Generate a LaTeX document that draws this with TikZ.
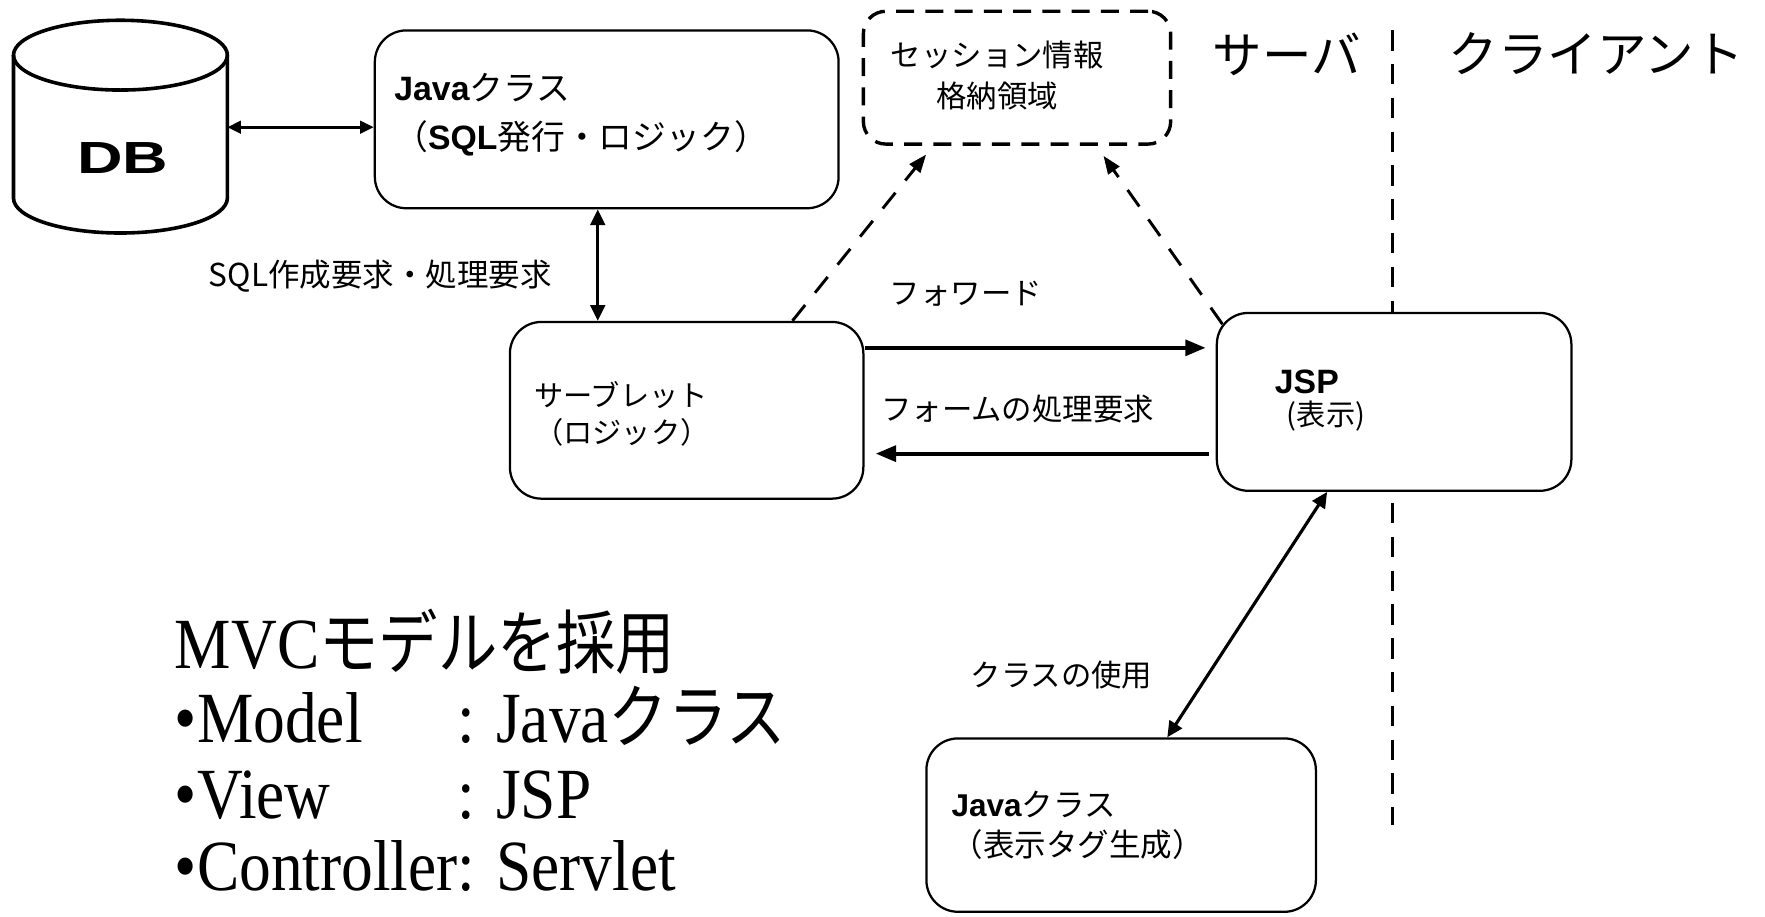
\documentclass[tikz,border=0pt]{standalone}
\usepackage{fontspec}
\usepackage{graphicx}
\setmainfont{Liberation Serif}
\newfontfamily\jp{Noto Sans CJK JP}
\newfontfamily\lsans{Liberation Sans}
\newfontfamily\tnr[FakeStretch=0.88]{Liberation Serif}
\newfontfamily\jpn[FakeStretch=0.85]{Noto Sans CJK JP}
\usetikzlibrary{arrows.meta}
\begin{document}
\begin{tikzpicture}[x=0.5pt,y=-0.5pt,
  box/.style={draw, line width=1pt, rounded corners=14pt, fill=white, inner sep=0pt},
  sbox/.style={draw, line width=1.5pt, dash pattern=on 8pt off 5pt, rounded corners=10pt, fill=white, inner sep=0pt},
  arr/.style={line width=1.7pt, -{Triangle[length=9pt,width=7pt]}},
  darr/.style={line width=1.3pt, dash pattern=on 9pt off 7pt, -{Triangle[length=8pt,width=6pt]}},
  barr/.style={line width=1.4pt, {Triangle[length=7pt,width=6.5pt]}-{Triangle[length=7pt,width=6.5pt]}},
  sepline/.style={line width=1.3pt, dash pattern=on 9pt off 6pt},
  lbl/.style={font=\jp\fontsize{13.5}{16}\selectfont, inner sep=0pt},
  big/.style={font=\jp\fontsize{22}{22}\selectfont, inner sep=0pt},
  bl/.style={font=\tnr\fontsize{32}{32}\selectfont, anchor=base west, inner sep=0pt}
]
\useasboundingbox (0,0) rectangle (1568,814);
\fill[white] (0,0) rectangle (1568,814);

% separator
\coordinate (sept) at (1237,27);
\coordinate (sepb) at (1237,733);
\draw[sepline] (sept) -- (sepb);

% DB cylinder
\draw[line width=1.6pt] (12,49) -- (12,176) arc[start angle=180, end angle=360, x radius=47.5pt, y radius=15.5pt] -- (202,49);
\draw[line width=1.6pt] (107,49) ellipse [x radius=47.5pt, y radius=15.5pt];
\node[font=\lsans\bfseries\fontsize{20}{20}\selectfont, inner sep=0pt] (db) at (109,140) {\scalebox{1.4}[1]{DB}};
\coordinate (dbr) at (202,113);

% boxes
\node[box, minimum width=206pt, minimum height=79pt] (java) at (539,106) {};
\node[box, minimum width=157pt, minimum height=78.5pt] (servlet) at (610,364.5) {};
\node[box, minimum width=157.5pt, minimum height=79pt] (jsp) at (1238.5,357) {};
\node[sbox, minimum width=136.5pt, minimum height=59pt] (session) at (903.5,69) {};
\node[box, minimum width=173pt, minimum height=77pt] (jcls2) at (996,733) {};

% box texts
\node[anchor=west, align=left, inner sep=0pt, font=\jp\fontsize{15}{21.5}\selectfont] (jtxt) at (350,102)
  {{\lsans\bfseries Java}クラス\\（{\lsans\bfseries SQL}発行・ロジック）};
\node[anchor=west, align=left, inner sep=0pt, font=\jp\fontsize{13}{16.5}\selectfont] (stxt) at (474,368)
  {サーブレット\\（ロジック）};
\node[inner sep=0pt, font=\lsans\bfseries\fontsize{15}{15}\selectfont] (jsp1) at (1161,339) {JSP};
\node[inner sep=0pt, font=\jp\fontsize{13}{13}\selectfont] (jsp2) at (1178,370) {(表示)};
\node[align=center, inner sep=0pt, font=\jp\fontsize{13.5}{18.5}\selectfont] (sestxt) at (886,67)
  {セッション情報\\格納領域};
\node[anchor=west, align=left, inner sep=0pt, font=\jp\fontsize{14}{18}\selectfont] (j2txt) at (845,733)
  {{\lsans\bfseries Java}クラス\\（表示タグ生成）};

% labels
\node[lbl, font=\jp\fontsize{14}{16}\selectfont] (sqlreq) at (338,245) {SQL作成要求・処理要求};
\node[lbl] (fwd) at (858,261) {フォワード};
\node[lbl] (formreq) at (904,363) {フォームの処理要求};
\node[lbl] (clsuse) at (943,600) {クラスの使用};
\node[big] (server) at (1143,48) {サーバ};
\node[big] (client) at (1418,48) {クライアント};

% connectors
\draw[line width=1.4pt, {Triangle[length=6pt,width=5.5pt]}-{Triangle[length=6pt,width=5.5pt]}] (dbr) -- (dbr -| java.west);
\coordinate (vx) at (531,0);
\draw[barr] (java.south -| vx) -- (servlet.north -| vx);
\coordinate (yf) at (0,309);
\coordinate (yb) at (0,403);
\draw[arr, shorten >=4.5pt] (servlet.east |- yf) -- (jsp.west |- yf);
\draw[arr, shorten <=3pt, shorten >=5pt] (jsp.west |- yb) -- (servlet.east |- yb);
\coordinate (d1) at (704,0);
\coordinate (e1) at (829,0);
\draw[darr, shorten >=5pt] (servlet.north -| d1) -- (session.south -| e1);
\coordinate (j1) at (1086,288);
\coordinate (e2) at (974,0);
\draw[darr, shorten >=5.5pt] (j1) -- (session.south -| e2);
\coordinate (cx1) at (1179,0);
\coordinate (cx2) at (1037,0);
\draw[barr] (jsp.south -| cx1) -- (jcls2.north -| cx2);

% bottom-left legend
\node[bl] (mvc) at (155,594) {MVC{\jpn\fontsize{31}{31}\selectfont モデルを採用}};
\node[bl] (mod1) at (155,660) {•Model};
\node[bl] (mod2) at (406,660) {: Java{\jpn\fontsize{31}{31}\selectfont クラス}};
\node[bl] (view1) at (155,727) {•View};
\node[bl] (view2) at (406,727) {: JSP};
\node[bl] (ctrl) at (155,791) {•Controller: Servlet};
\end{tikzpicture}
\end{document}
